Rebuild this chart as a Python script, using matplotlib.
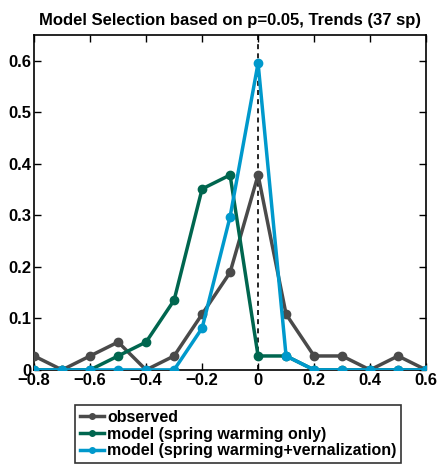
import numpy as np
import matplotlib
matplotlib.use('Agg')
import matplotlib.pyplot as plt

# ── DATA ──────────────────────────────────────────────────────────────
bins = [-0.8, -0.7, -0.6, -0.5, -0.4, -0.3, -0.2, -0.1, 0.0,
        0.1, 0.2, 0.3, 0.4, 0.5, 0.6]
observed = [0.027, 0.0, 0.027, 0.054, 0.0, 0.027, 0.108, 0.189, 0.378,
            0.108, 0.027, 0.027, 0.0, 0.027, 0.0]
model_warming = [0.0, 0.0, 0.0, 0.027, 0.054, 0.135, 0.351, 0.378, 0.027,
                 0.027, 0.0, 0.0, 0.0, 0.0, 0.0]
model_vern = [0.0, 0.0, 0.0, 0.0, 0.0, 0.0, 0.081, 0.297, 0.595,
              0.027, 0.0, 0.0, 0.0, 0.0, 0.0]
xticks = [-0.8, -0.6, -0.4, -0.2, 0, 0.2, 0.4, 0.6]
xticklabels = ['\u22120.8', '\u22120.6', '\u22120.4', '\u22120.2', '0', '0.2', '0.4', '0.6']
yticks = [0, 0.1, 0.2, 0.3, 0.4, 0.5, 0.6]
yticklabels = ['0', '0.1', '0.2', '0.3', '0.4', '0.5', '0.6']

plt.rcParams['font.family'] = ['Liberation Sans', 'DejaVu Sans']
plt.rcParams['font.weight'] = 'bold'

# ── FIGURE ────────────────────────────────────────────────────────────
fig = plt.figure(figsize=(4.37, 4.70), dpi=100)
ax = fig.add_axes([0.078, 0.213, 0.897, 0.713])

ax.axvline(0, color='black', linestyle='--', linewidth=1.2, dashes=(3, 2.5), zorder=1)

l1, = ax.plot(bins, observed, color='#4a4a4a', linewidth=2.5,
              marker='o', markersize=6, label='observed', zorder=3)
l2, = ax.plot(bins, model_warming, color='#00664f', linewidth=2.5,
              marker='o', markersize=6, label='model (spring warming only)', zorder=4)
l3, = ax.plot(bins, model_vern, color='#0099cc', linewidth=2.5,
              marker='o', markersize=6,
              label='model (spring warming+vernalization)', zorder=5)

ax.set_xlim(-0.8, 0.6)
ax.set_ylim(0, 0.65)
ax.set_xticks(xticks)
ax.set_xticklabels(xticklabels)
ax.set_yticks(yticks)
ax.set_yticklabels(yticklabels)
ax.tick_params(direction='in', top=True, right=True, labelsize=12,
               length=5, width=1, pad=2)
for lab in ax.get_xticklabels() + ax.get_yticklabels():
    lab.set_fontweight('bold')
for spine in ax.spines.values():
    spine.set_linewidth(1.2)

ax.set_title('Model Selection based on p=0.05, Trends (37 sp)',
             fontsize=12, fontweight='bold', pad=7)

leg = fig.legend(handles=[l1, l2, l3], loc='upper left',
                 bbox_to_anchor=(0.172, 0.138), frameon=True,
                 fancybox=False, edgecolor='black', fontsize=11.5,
                 handlelength=1.5, handletextpad=0.2, borderpad=0.3,
                 labelspacing=0.1, borderaxespad=0)
leg.get_frame().set_linewidth(1.2)
for h in leg.legend_handles:
    h.set_markersize(4)
for t in leg.get_texts():
    t.set_fontweight('bold')

fig.savefig('out.png', dpi=100)
